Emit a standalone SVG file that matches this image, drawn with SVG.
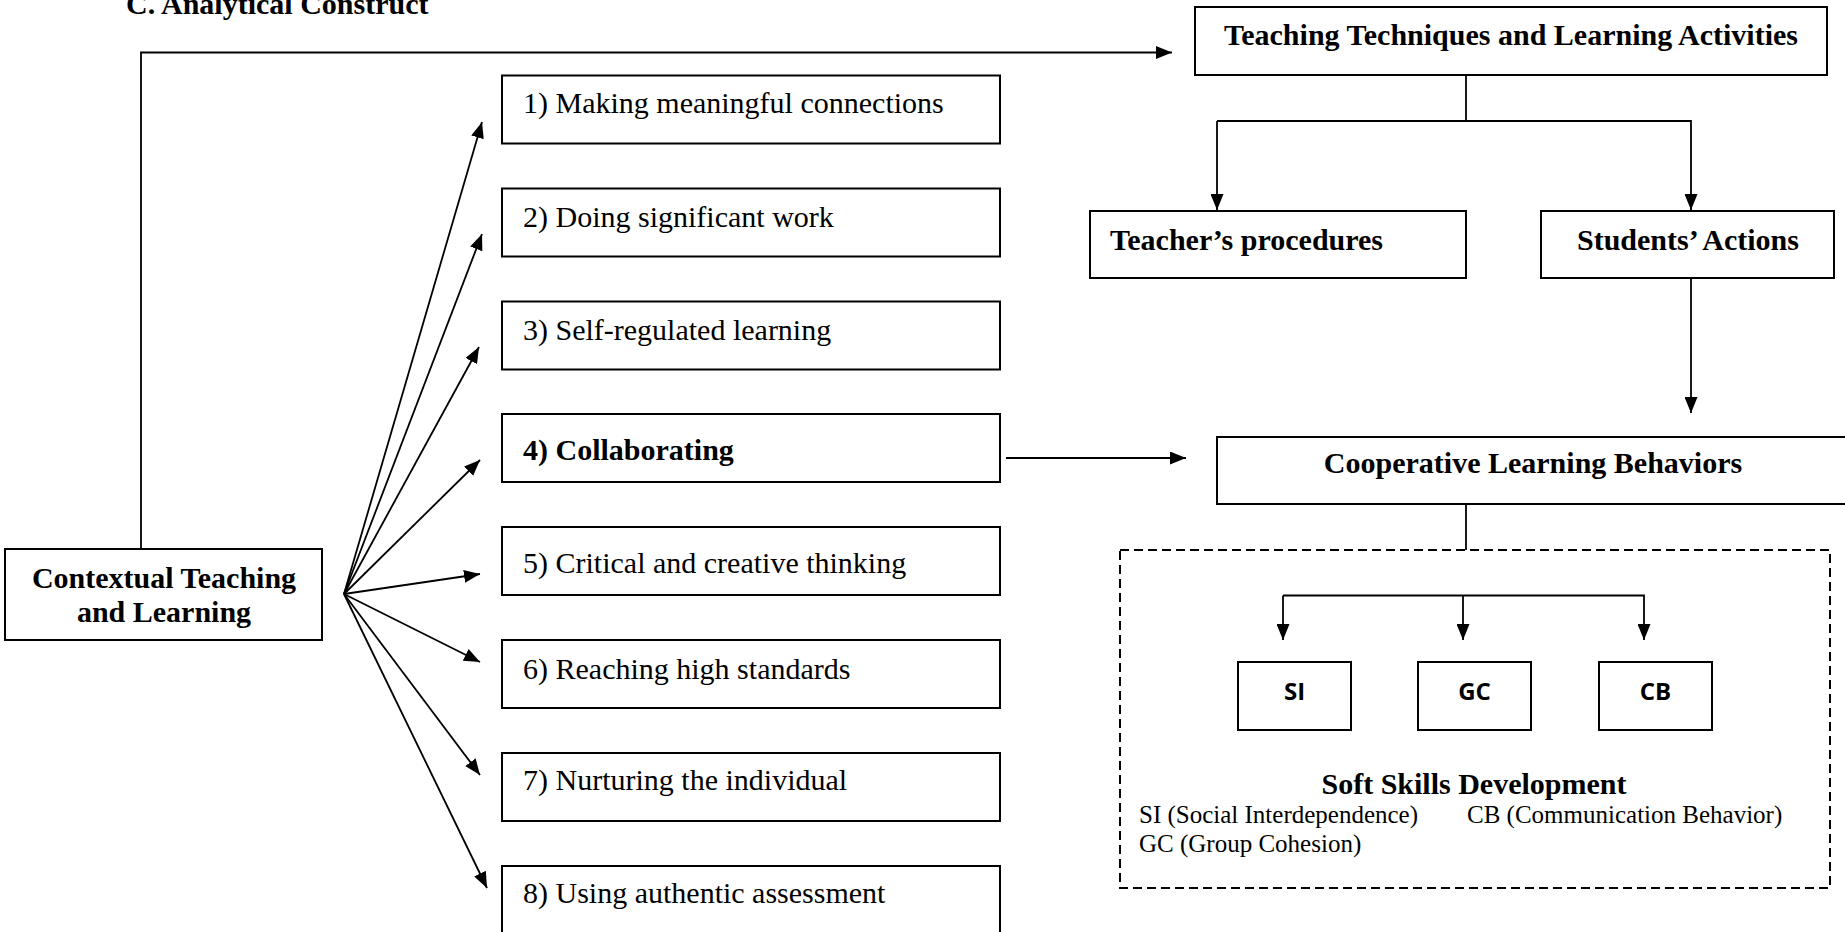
<svg xmlns="http://www.w3.org/2000/svg" width="1845" height="932" viewBox="0 0 1845 932">
<style>
.box{fill:#fff;stroke:#000;stroke-width:2}
.dash{fill:none;stroke:#000;stroke-width:2;stroke-dasharray:9 5}
.ln{fill:none;stroke:#000;stroke-width:1.8}
.t{font-family:"Liberation Serif","Times New Roman",serif;font-size:30px;fill:#000}
.b{font-weight:bold}
.m{text-anchor:middle}
.s{font-family:"Open Sans","Noto Sans",sans-serif;font-weight:bold;font-size:24px;text-anchor:middle}
.lg{font-family:"Liberation Serif","Times New Roman",serif;font-size:25px;fill:#000}
</style>
<defs>
<marker id="ah" markerUnits="userSpaceOnUse" markerWidth="16" markerHeight="13" refX="16" refY="6.5" orient="auto">
<path d="M0,0 L16,6.5 L0,13 z" fill="#000"/>
</marker>
</defs>
<rect width="1845" height="932" fill="#fff"/>
<text class="t b" x="126" y="14">C. Analytical Construct</text>

<g id="connectors">
<polyline class="ln" points="141,549 141,52.5 1172,52.5" marker-end="url(#ah)"/>
<line class="ln" x1="344" y1="594" x2="482" y2="122" marker-end="url(#ah)"/>
<line class="ln" x1="344" y1="594" x2="482" y2="234" marker-end="url(#ah)"/>
<line class="ln" x1="344" y1="594" x2="479" y2="347" marker-end="url(#ah)"/>
<line class="ln" x1="344" y1="594" x2="480" y2="460" marker-end="url(#ah)"/>
<line class="ln" x1="344" y1="594" x2="480" y2="574" marker-end="url(#ah)"/>
<line class="ln" x1="344" y1="594" x2="480" y2="662" marker-end="url(#ah)"/>
<line class="ln" x1="344" y1="594" x2="480" y2="775" marker-end="url(#ah)"/>
<line class="ln" x1="344" y1="594" x2="487" y2="888" marker-end="url(#ah)"/>
<line class="ln" x1="1006" y1="458" x2="1186" y2="458" marker-end="url(#ah)"/>
<line class="ln" x1="1466" y1="75" x2="1466" y2="121"/>
<polyline class="ln" points="1217,121 1691,121 1691,210" marker-end="url(#ah)"/>
<line class="ln" x1="1217" y1="121" x2="1217" y2="210" marker-end="url(#ah)"/>
<line class="ln" x1="1691" y1="278" x2="1691" y2="413" marker-end="url(#ah)"/>
<line class="ln" x1="1466" y1="504" x2="1466" y2="550"/>
<polyline class="ln" points="1283,595.5 1644,595.5 1644,640" marker-end="url(#ah)"/>
<line class="ln" x1="1283" y1="595.5" x2="1283" y2="640" marker-end="url(#ah)"/>
<line class="ln" x1="1463" y1="595.5" x2="1463" y2="640" marker-end="url(#ah)"/>
</g>

<g id="ctl">
<rect class="box" x="5" y="549" width="317" height="91"/>
<text class="t b m" x="164" y="588">Contextual Teaching</text>
<text class="t b m" x="164" y="622">and Learning</text>
</g>
<g id="item1"><rect class="box" x="502" y="75.5" width="498" height="68"/><text class="t" x="523" y="113">1) Making meaningful connections</text></g>
<g id="item2"><rect class="box" x="502" y="188.5" width="498" height="68"/><text class="t" x="523" y="227">2) Doing significant work</text></g>
<g id="item3"><rect class="box" x="502" y="301.5" width="498" height="68"/><text class="t" x="523" y="340">3) Self-regulated learning</text></g>
<g id="item4"><rect class="box" x="502" y="414" width="498" height="68"/><text class="t b" x="523" y="460">4) Collaborating</text></g>
<g id="item5"><rect class="box" x="502" y="527" width="498" height="68"/><text class="t" x="523" y="573">5) Critical and creative thinking</text></g>
<g id="item6"><rect class="box" x="502" y="640" width="498" height="68"/><text class="t" x="523" y="679">6) Reaching high standards</text></g>
<g id="item7"><rect class="box" x="502" y="753" width="498" height="68"/><text class="t" x="523" y="790">7) Nurturing the individual</text></g>
<g id="item8"><rect class="box" x="502" y="866" width="498" height="70"/><text class="t" x="523" y="903">8) Using authentic assessment</text></g>

<g id="techniques"><rect class="box" x="1195" y="7" width="632" height="68"/><text class="t b m" x="1511" y="45">Teaching Techniques and Learning Activities</text></g>
<g id="teacher"><rect class="box" x="1090" y="211" width="376" height="67"/><text class="t b" x="1110" y="250">Teacher’s procedures</text></g>
<g id="students"><rect class="box" x="1541" y="211" width="293" height="67"/><text class="t b m" x="1688" y="250">Students’ Actions</text></g>
<g id="coop"><rect class="box" x="1217" y="437" width="634" height="67"/><text class="t b m" x="1533" y="473">Cooperative Learning Behaviors</text></g>

<g id="softskills">
<rect class="dash" x="1120" y="550" width="710" height="338"/>
<text class="t b m" x="1474" y="794">Soft Skills Development</text>
<text class="lg" x="1139" y="823">SI (Social Interdependence)</text>
<text class="lg" x="1467" y="823">CB (Communication Behavior)</text>
<text class="lg" x="1139" y="852">GC (Group Cohesion)</text>
</g>
<g id="si"><rect class="box" x="1238" y="662" width="113" height="68"/><text class="s" x="1294.5" y="700">SI</text></g>
<g id="gc"><rect class="box" x="1418" y="662" width="113" height="68"/><text class="s" x="1474.5" y="700">GC</text></g>
<g id="cb"><rect class="box" x="1599" y="662" width="113" height="68"/><text class="s" x="1655.5" y="700">CB</text></g>
</svg>
